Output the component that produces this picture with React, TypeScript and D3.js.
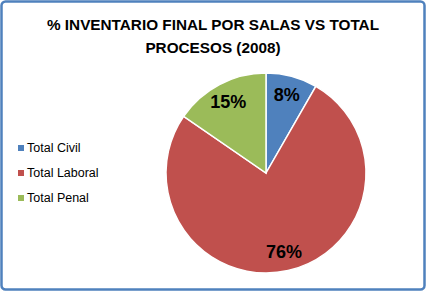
import React from "react";
import * as d3 from "d3";

const categories = ["Total Civil", "Total Laboral", "Total Penal"];
const values = [8.3, 76.3, 15.4];
const labels = ["8%", "76%", "15%"];
const colors = ["#4F81BD", "#C0504D", "#9BBB59"];
const titleLines = ["% INVENTARIO FINAL POR SALAS VS TOTAL", "PROCESOS (2008)"];

const W = 426;
const H = 291;

export default function App() {
  const cx = 266;
  const cy = 173;
  const R = 100;
  const pie = d3.pie<number>().sort(null).value((d) => d)(values);
  const arc = d3.arc<d3.PieArcDatum<number>>().innerRadius(0).outerRadius(R);
  const labelArc = d3.arc<d3.PieArcDatum<number>>().innerRadius(R * 0.81).outerRadius(R * 0.81);
  const font = "'Liberation Sans', Arial, sans-serif";
  return (
    <svg width={W} height={H} style={{ position: "absolute", left: 0, top: 0 }} fontFamily={font}>
      <rect x={0} y={0} width={W} height={H} fill="#fff" />
      <rect x={1.5} y={1.5} width={W - 3} height={H - 3} rx={4} fill="#fff" stroke="#4F81BD" strokeWidth={2.5} />
      {titleLines.map((t, i) => (
        <text key={i} x={213} y={30 + i * 23} textAnchor="middle" fontSize={15.3} fontWeight="bold" fill="#000">
          {t}
        </text>
      ))}
      <g transform={`translate(${cx},${cy})`}>
        {pie.map((p, i) => (
          <path key={i} d={arc(p) || ""} fill={colors[i]} stroke="#fff" strokeWidth={1.5} />
        ))}
        {pie.map((p, i) => {
          const [x, y] = labelArc.centroid(p);
          return (
            <text key={i} x={x} y={y} dy="0.35em" textAnchor="middle" fontSize={18} fontWeight="bold" fill="#000">
              {labels[i]}
            </text>
          );
        })}
      </g>
      {categories.map((c, i) => (
        <g key={i} transform={`translate(18, ${148 + i * 25})`}>
          <rect x={0} y={-3} width={6} height={6} fill={colors[i]} />
          <text x={9} y={0} dy="0.35em" fontSize={12.5} fill="#000">
            {c}
          </text>
        </g>
      ))}
    </svg>
  );
}
